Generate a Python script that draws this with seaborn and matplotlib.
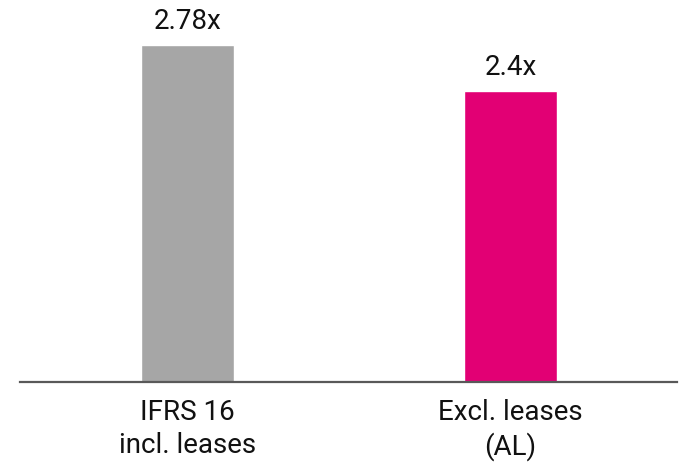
import matplotlib
matplotlib.use("Agg")
import matplotlib.pyplot as plt
import seaborn as sns
import pandas as pd

# data
categories = ["IFRS 16\nincl. leases", "Excl. leases\n(AL)"]
values = [2.78, 2.4]
value_labels = ["2.78x", "2.4x"]
bar_colors = ["#A6A6A6", "#E20074"]

sns.set_style("white")
plt.rcParams["font.family"] = ["Roboto", "DejaVu Sans"]

df = pd.DataFrame({"cat": categories, "val": values})

fig = plt.figure(figsize=(6.82, 4.68), dpi=100)
ax = fig.add_axes([20 / 682, 1 - 382 / 468, 657 / 682, 382 / 468])

sns.barplot(data=df, x="cat", y="val", hue="cat", palette=bar_colors,
            width=0.288, legend=False, ax=ax, saturation=1)

for i, (v, lab) in enumerate(zip(values, value_labels)):
    ax.annotate(lab, (i, v), xytext=(0, 7), textcoords="offset points",
                ha="center", va="bottom", fontsize=20, color="#111111")

ax.set_xlim(-0.519, 1.515)
ax.set_ylim(0, 3.152)
ax.set_xlabel("")
ax.set_ylabel("")
ax.set_yticks([])
ax.tick_params(axis="x", length=0, pad=12, labelsize=20, colors="#111111")
for t in ax.get_xticklabels():
    t.set_linespacing(1.3)
for s in ["top", "left", "right"]:
    ax.spines[s].set_visible(False)
ax.spines["bottom"].set_color("#595959")
ax.spines["bottom"].set_linewidth(1.6)

fig.savefig("out.png", dpi=100)
